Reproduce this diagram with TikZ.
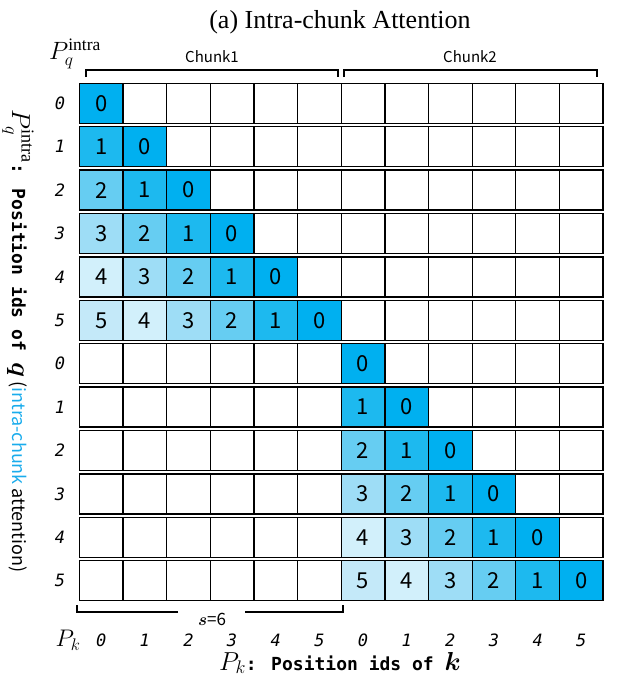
\RequirePackage{fix-cm}
\documentclass[tikz,border=0pt]{standalone}
\usepackage{amsmath,bm}
\usepackage{fontspec}
\setmainfont{Liberation Serif}
\newfontfamily\cellfont{Noto Sans CJK SC}
\newfontfamily\idfont{DejaVu Sans Mono}
\usepackage{xcolor}
\usetikzlibrary{
	positioning
}

\definecolor{dist0}{HTML}{00B0F0}
\definecolor{dist1}{HTML}{1DB9EF}
\definecolor{dist2}{HTML}{66CDF2}
\definecolor{dist3}{HTML}{9EDDF6}
\definecolor{dist4}{HTML}{D2F0FB}
\definecolor{dist5}{HTML}{C4E9F9}
\definecolor{intrablue}{HTML}{1AACEC}

\tikzset{
	cell/.style={draw,line width=1.3pt,minimum width=43.65pt,minimum height=40pt,
		inner sep=0pt,outer sep=0pt,font=\cellfont\fontsize{22}{22}\selectfont},
	idlab/.style={font=\idfont\itshape\fontsize{17}{17}\selectfont},
	chunklab/.style={font=\cellfont\fontsize{15}{15}\selectfont},
	bracket/.style={line width=1.2pt}
}

\begin{document}
\begin{tikzpicture}[x=1pt,y=-1pt]
	\useasboundingbox (0,0) rectangle (624,685);

	\node [anchor=base,font=\fontsize{26}{26}\selectfont] (title) at (340,29) {(a) Intra-chunk Attention};

	% cells, one strip per row
	\foreach \r in {0,...,11}{
		\foreach \c in {0,...,11}{
			\pgfmathtruncatemacro\rc{int(\r/6)}
			\pgfmathtruncatemacro\cc{int(\c/6)}
			\pgfmathtruncatemacro\dd{\r-\c}
			\pgfmathtruncatemacro\on{(\rc==\cc)*(\c<=\r)}
			\ifnum\on=1
				\node [cell,fill=dist\dd] (c-\r-\c) at ({79.3+43.65*(\c+0.5)},{103.3+43.4*\r}) {\dd};
			\else
				\node [cell] (c-\r-\c) at ({79.3+43.65*(\c+0.5)},{103.3+43.4*\r}) {};
			\fi
		}
	}

	% position ids
	\foreach \i in {0,...,11}{
		\pgfmathtruncatemacro\ii{\i-6*int(\i/6)}
		\node [idlab] (row\i) at ({60},{103.3+43.4*\i}) {\ii};
		\node [idlab] (col\i) at ({79.3+43.65*(\i+0.5)},{640}) {\ii};
	}
	\node [font=\fontsize{25}{25}\selectfont] (pq) at (75,54) {$P_q^{\mathrm{intra}}$};
	\node [font=\fontsize{24}{24}\selectfont] (pk) at (68,640) {$P_k$};

	% chunk brackets
	\draw [bracket] (86,77) -- (86,70) -- (338,70) -- (338,77);
	\draw [bracket] (344,77) -- (344,70) -- (597,70) -- (597,77);
	\node [chunklab] (chunk1) at (212,57) {Chunk1};
	\node [chunklab] (chunk2) at (470,57) {Chunk2};

	\draw [bracket] (178,612) -- (77,612) -- (77,605);
	\draw [bracket] (245,612) -- (343,612) -- (343,605);
	\node [font=\cellfont\fontsize{17}{17}\selectfont] (span) at (212,619) {$\bm{s}$=6};

	% axis titles
	\node [anchor=base] (xtitle) at (340,670)
		{{\fontsize{26}{26}\selectfont$P_k$}{\idfont\bfseries\fontsize{18}{18}\selectfont: Position ids of }{\fontsize{26}{26}\selectfont$\bm{k}$}};
	\node [rotate=-90] (ytitle) at (18,341)
		{{\fontsize{26}{26}\selectfont$P_q^{\mathrm{intra}}$}{\idfont\bfseries\fontsize{18}{18}\selectfont: Position ids of }{\fontsize{26}{26}\selectfont$\bm{q}$}{\cellfont\fontsize{18}{18}\selectfont\ (\textcolor{intrablue}{intra-chunk} attention)}};
\end{tikzpicture}
\end{document}
